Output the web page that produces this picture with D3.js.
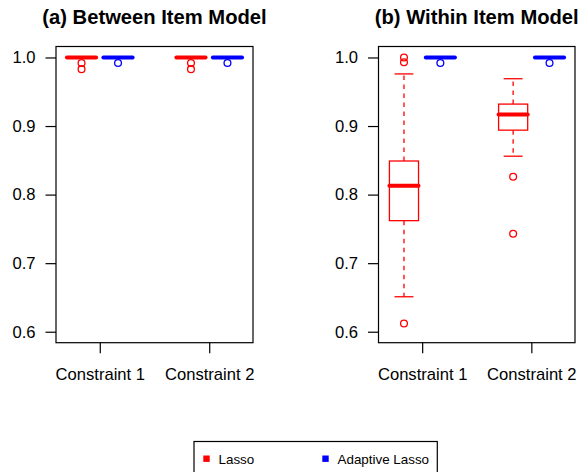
<!DOCTYPE html>
<html>
<head>
<meta charset="utf-8">
<script src="https://cdn.jsdelivr.net/npm/d3@7"></script>
<style>
  html, body { margin: 0; padding: 0; background: #fff; }
  svg { display: block; font-family: "Liberation Sans", Arial, Helvetica, sans-serif; }
</style>
</head>
<body>
<svg id="chart" width="584" height="472"></svg>
<script>
// Groups drawn in each panel, in order along the x axis
const methods = ["Lasso", "Adaptive Lasso"];
const constraints = ["Constraint 1", "Constraint 2"];
const methodColors = ["#ff0000", "#0000ff"];
const boxPositions = [1, 2, 4, 5];      // Lasso C1, Adaptive C1, Lasso C2, Adaptive C2
const constraintTicks = [1.5, 4.5];
const yTicks = [0.6, 0.7, 0.8, 0.9, 1.0];
const yLimits = [0.6, 1.0];

// Box statistics: [lower whisker, Q1, median, Q3, upper whisker]
const betweenStats = [
  [1.0, 1.0, 1.0, 1.0, 1.0],
  [1.0, 1.0, 1.0, 1.0, 1.0],
  [1.0, 1.0, 1.0, 1.0, 1.0],
  [1.0, 1.0, 1.0, 1.0, 1.0]
];
const betweenOutliers = [
  [0.992, 0.983],
  [0.992],
  [0.992, 0.983],
  [0.992]
];
const withinStats = [
  [0.651, 0.762, 0.813, 0.849, 0.976],
  [1.0, 1.0, 1.0, 1.0, 1.0],
  [0.856, 0.894, 0.917, 0.932, 0.969],
  [1.0, 1.0, 1.0, 1.0, 1.0]
];
const withinOutliers = [
  [1.0, 0.993, 0.612],
  [0.992],
  [0.826, 0.743],
  [0.992]
];
const panelTitles = ["(a) Between Item Model", "(b) Within Item Model"];

const svg = d3.select("#chart");

const plotTop = 46.5, plotBottom = 342.7;
const panels = [
  { title: panelTitles[0], left: 56, right: 253, stats: betweenStats, outliers: betweenOutliers },
  { title: panelTitles[1], left: 378.5, right: 575, stats: withinStats, outliers: withinOutliers }
];

// y range padded by 4% on both sides
const span = yLimits[1] - yLimits[0];
const y = d3.scaleLinear()
  .domain([yLimits[0] - 0.04 * span, yLimits[1] + 0.04 * span])
  .range([plotBottom, plotTop]);

const boxWidthUnits = 0.8;
const capFraction = 0.65;

panels.forEach(p => {
  const g = svg.append("g");
  const xDomain = [0.5 - 0.2, 5.5 + 0.2];
  const x = d3.scaleLinear().domain(xDomain).range([p.left, p.right]);
  const unit = x(1) - x(0);
  const bw = boxWidthUnits * unit;

  // Title
  g.append("text")
    .attr("x", (p.left + p.right) / 2)
    .attr("y", 23.5)
    .attr("text-anchor", "middle")
    .style("font-size", "20.2px")
    .style("font-weight", "bold")
    .attr("fill", "#000")
    .text(p.title);

  // Boxes
  boxPositions.forEach((pos, i) => {
    const col = methodColors[i % 2];
    const [lo, q1, med, q3, hi] = p.stats[i];
    const cx = x(pos);
    const bg = g.append("g");

    // whiskers
    bg.append("line")
      .attr("x1", cx).attr("x2", cx)
      .attr("y1", y(q3)).attr("y2", y(hi))
      .attr("stroke", col).attr("stroke-width", 1.3)
      .attr("stroke-dasharray", "4.5,4.5");
    bg.append("line")
      .attr("x1", cx).attr("x2", cx)
      .attr("y1", y(q1)).attr("y2", y(lo))
      .attr("stroke", col).attr("stroke-width", 1.3)
      .attr("stroke-dasharray", "4.5,4.5");
    // staples
    [lo, hi].forEach(v => {
      bg.append("line")
        .attr("x1", cx - bw * capFraction / 2).attr("x2", cx + bw * capFraction / 2)
        .attr("y1", y(v)).attr("y2", y(v))
        .attr("stroke", col).attr("stroke-width", 1.3);
    });
    // box
    bg.append("rect")
      .attr("x", cx - bw / 2).attr("y", y(q3))
      .attr("width", bw).attr("height", Math.max(0, y(q1) - y(q3)))
      .attr("fill", "none").attr("stroke", col).attr("stroke-width", 1.3);
    // median
    bg.append("line")
      .attr("x1", cx - bw / 2).attr("x2", cx + bw / 2)
      .attr("y1", y(med)).attr("y2", y(med))
      .attr("stroke", col).attr("stroke-width", 4)
      .attr("stroke-linecap", "round");
    // outliers
    bg.selectAll("circle")
      .data(p.outliers[i])
      .enter().append("circle")
      .attr("cx", cx).attr("cy", d => y(d))
      .attr("r", 3.4)
      .attr("fill", "none").attr("stroke", col).attr("stroke-width", 1.3);
  });

  // Frame
  g.append("rect")
    .attr("x", p.left).attr("y", plotTop)
    .attr("width", p.right - p.left).attr("height", plotBottom - plotTop)
    .attr("fill", "none").attr("stroke", "#000").attr("stroke-width", 1.2);

  // Y axis
  const yAxis = d3.axisLeft(y).tickValues(yTicks).tickFormat(d3.format(".1f"))
    .tickSize(10.5).tickPadding(10);
  const ya = g.append("g").attr("transform", `translate(${p.left},0)`).call(yAxis);
  ya.select(".domain").remove();
  ya.selectAll(".tick line").attr("stroke", "#000").attr("stroke-width", 1.2);
  ya.selectAll("text").style("font-size", "16.6px").attr("fill", "#000")
    .style("font-family", "'Liberation Sans', Arial, sans-serif");

  // X axis
  const xAxis = d3.axisBottom(x).tickValues(constraintTicks)
    .tickFormat((d, i) => constraints[i]).tickSize(10.5).tickPadding(15);
  const xa = g.append("g").attr("transform", `translate(0,${plotBottom})`).call(xAxis);
  xa.select(".domain").remove();
  xa.selectAll(".tick line").attr("stroke", "#000").attr("stroke-width", 1.2);
  xa.selectAll("text").style("font-size", "16.6px").attr("fill", "#000")
    .style("font-family", "'Liberation Sans', Arial, sans-serif");
});

// Legend
const legend = svg.append("g");
legend.append("rect")
  .attr("x", 194).attr("y", 441.5)
  .attr("width", 243.3).attr("height", 40)
  .attr("fill", "#fff").attr("stroke", "#000").attr("stroke-width", 1.2);
const legendX = [206.5, 325.5];
methods.forEach((m, i) => {
  legend.append("rect")
    .attr("x", legendX[i] - 3.2).attr("y", 458.7 - 3.2)
    .attr("width", 6.4).attr("height", 6.4)
    .attr("fill", methodColors[i]);
  legend.append("text")
    .attr("x", legendX[i] + 12)
    .attr("y", 463.5)
    .style("font-size", "13.4px")
    .attr("fill", "#000")
    .text(m);
});
</script>
</body>
</html>
